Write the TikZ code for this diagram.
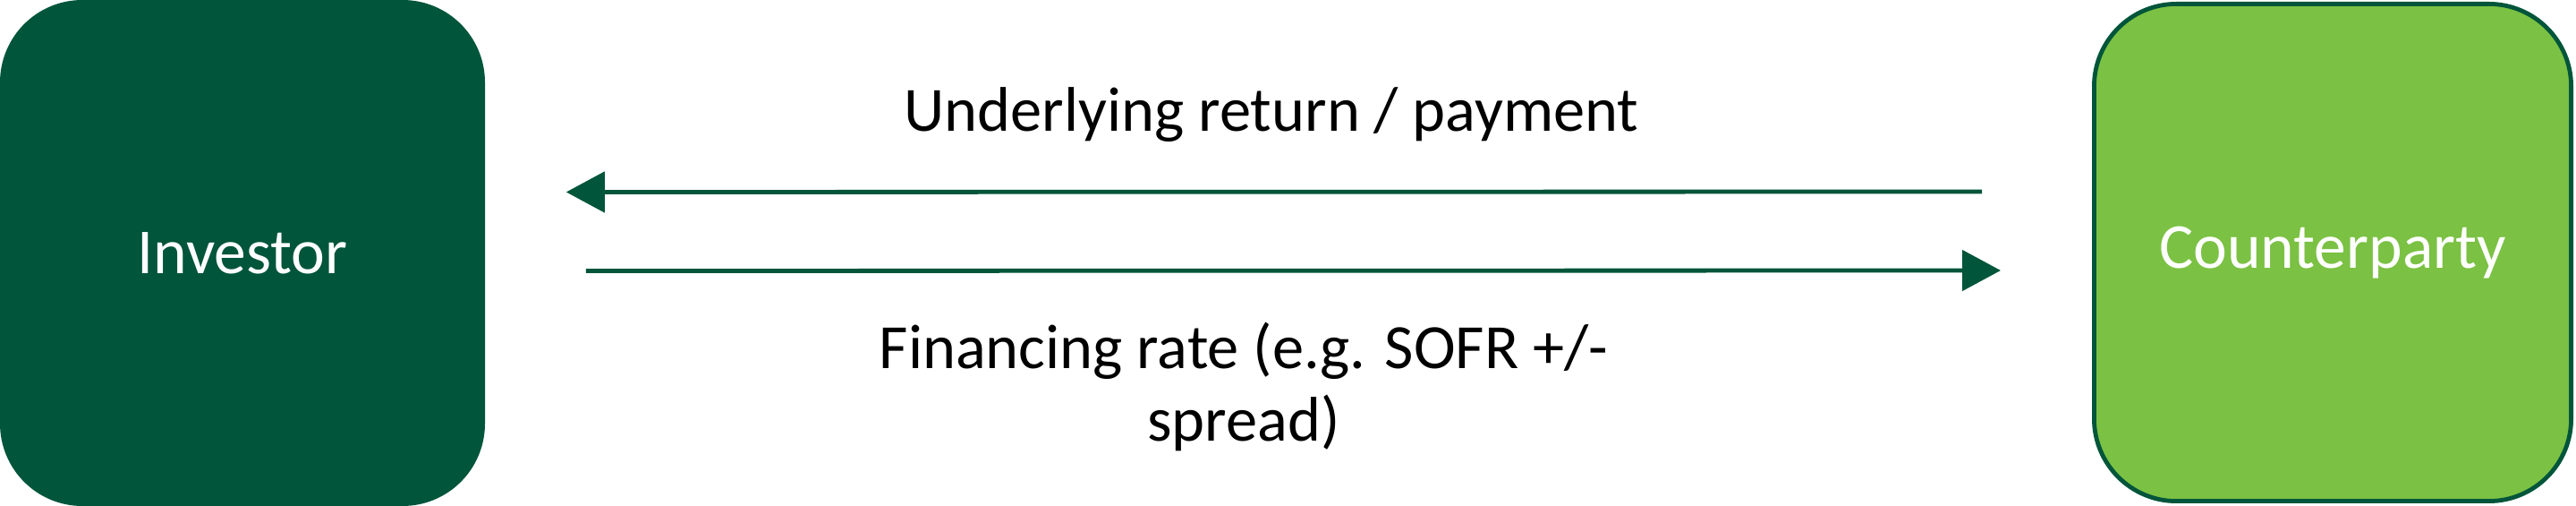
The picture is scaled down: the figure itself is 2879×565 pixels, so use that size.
\documentclass[tikz,border=0pt]{standalone}
\usepackage{fontspec}
\setmainfont{Carlito}
\usetikzlibrary{arrows.meta,calc}
\definecolor{dkgreen}{HTML}{00553A}
\definecolor{ltgreen}{HTML}{7BC143}
\tikzset{
  party/.style={rectangle,rounded corners=23pt,inner sep=0pt,text=white,
    font=\fontsize{17.9}{20.25}\selectfont},
  flow/.style={draw=dkgreen,line width=1.2pt,-{Triangle[length=10.75pt,width=11.25pt]}},
  lbl/.style={inner sep=0pt,align=center,font=\fontsize{17.6}{20.25}\selectfont,text=black}
}
\begin{document}
\begin{tikzpicture}[x=0.25pt,y=-0.25pt]
\useasboundingbox (0,0) rectangle (2879,565);
\node[party,fill=dkgreen,minimum width=135.5pt,minimum height=141.25pt] (inv) at (271,282.5) {Investor};
\node[party,fill=ltgreen,draw=dkgreen,line width=1.2pt,minimum width=133.3pt,minimum height=138.8pt] (cp) at (2607,282) {Counterparty};
\draw[flow] ($(cp.west)+(-123,-68)$) coordinate (t1) -- ($(inv.east)+(90,-68)$) coordinate (h1);
\draw[flow] ($(inv.east)+(112,20)$) coordinate (t2) -- ($(cp.west)+(-102,20)$) coordinate (h2);
\node[lbl,anchor=base] (l1) at (1421,147) {Underlying return / payment};
\node[lbl,anchor=base] (l2) at (1390,493) {Financing rate (e.g. SOFR +/-\\spread)};
\end{tikzpicture}
\end{document}
